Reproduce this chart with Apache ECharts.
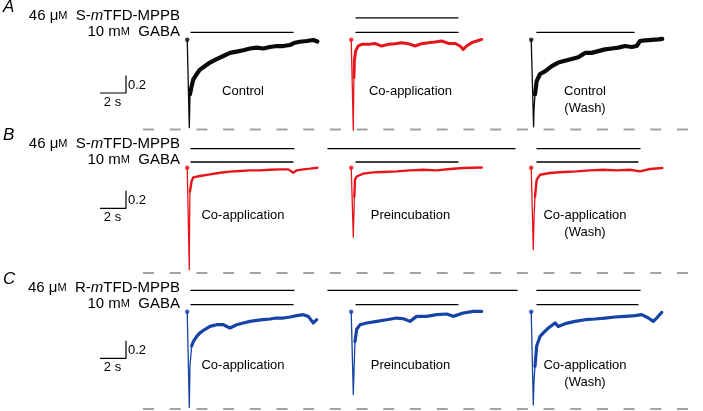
<!DOCTYPE html>
<html>
<head>
<meta charset="utf-8">
<script src="https://cdn.jsdelivr.net/npm/echarts@6/dist/echarts.min.js"></script>
<style>html,body{margin:0;padding:0;background:#fff}#chart{width:703px;height:411px}</style>
</head>
<body>
<div id="chart"></div>
<script>
// ---------------- DATA (normalised current vs time in s) ----------------
const traceIds = ['A1','A2','A3','B1','B2','B3','C1','C2','C3'];

const tA1 = [-0.06, 0, 0.1, 0.13, 0.15, 0.28, 0.41, 0.67, 0.92, 1.31, 1.69, 2.2, 2.72, 3.23, 3.74, 4.26, 4.77, 5.28, 5.79, 6.3, 6.82, 7.33, 7.85, 8.23, 8.6, 9.13, 9.64, 9.95];
const vA1 = [0, 0, -1.0, -0.8, -0.62, -0.53, -0.45, -0.39, -0.34, -0.30, -0.26, -0.22, -0.185, -0.15, -0.136, -0.12, -0.10, -0.09, -0.10, -0.083, -0.072, -0.072, -0.06, -0.034, -0.023, -0.015, -0.003, -0.02];

const tA2 = [-0.06, 0, 0.1, 0.13, 0.15, 0.18, 0.28, 0.48, 0.75, 1.25, 1.77, 2.28, 2.79, 3.31, 3.82, 4.33, 4.85, 5.36, 5.87, 6.38, 6.9, 7.41, 7.92, 8.31, 8.56, 8.82, 9.21, 9.59, 9.98];
const vA2 = [0, 0, -1.03, -0.62, -0.43, -0.24, -0.13, -0.07, -0.053, -0.053, -0.042, -0.072, -0.053, -0.045, -0.034, -0.045, -0.072, -0.045, -0.034, -0.026, -0.015, -0.042, -0.042, -0.072, -0.11, -0.072, -0.034, -0.015, 0.003];

const tA3 = [-0.06, 0, 0.12, 0.16, 0.23, 0.36, 0.62, 1.0, 1.52, 2.02, 2.54, 3.05, 3.56, 4.08, 4.59, 5.1, 5.62, 6.13, 6.64, 7.15, 7.67, 8.05, 8.31, 8.69, 9.21, 9.72, 10.02];
const vA3 = [0, 0, -0.99, -0.78, -0.62, -0.47, -0.39, -0.36, -0.30, -0.26, -0.24, -0.22, -0.20, -0.15, -0.15, -0.13, -0.11, -0.10, -0.09, -0.072, -0.083, -0.072, -0.015, -0.008, -0.003, 0.003, 0.01];

const tB1 = [-0.06, 0, 0.1, 0.12, 0.15, 0.28, 0.41, 0.92, 1.69, 2.46, 3.23, 4.0, 4.77, 5.54, 6.31, 7.08, 7.72, 8.1, 8.36, 8.87, 9.38, 9.95];
const vB1 = [0, 0, -1.16, -0.6, -0.27, -0.15, -0.11, -0.094, -0.076, -0.057, -0.045, -0.038, -0.03, -0.03, -0.023, -0.019, -0.019, -0.057, -0.03, -0.019, -0.011, 0];

const tB2 = [-0.06, 0, 0.1, 0.15, 0.18, 0.23, 0.36, 0.87, 1.64, 2.41, 3.44, 4.46, 5.48, 6.51, 7.54, 8.56, 9.98];
const vB2 = [0, 0, -0.79, -0.51, -0.33, -0.136, -0.1, -0.068, -0.053, -0.049, -0.042, -0.03, -0.023, -0.03, -0.015, -0.004, 0.003];

const tB3 = [-0.06, 0, 0.1, 0.16, 0.23, 0.36, 0.62, 1.38, 2.41, 3.44, 4.46, 5.48, 6.51, 7.54, 8.31, 9.08, 10.02];
const vB3 = [0, 0, -0.93, -0.55, -0.33, -0.136, -0.08, -0.06, -0.049, -0.042, -0.03, -0.023, -0.03, -0.023, -0.042, -0.015, -0.004];

const tC1 = [-0.06, 0, 0.1, 0.15, 0.28, 0.41, 0.67, 0.92, 1.31, 1.69, 2.2, 2.72, 3.23, 3.74, 4.26, 4.77, 5.28, 5.79, 6.31, 6.82, 7.33, 7.85, 8.36, 8.87, 9.25, 9.64, 9.9];
const vC1 = [0, 0, -1.09, -0.62, -0.39, -0.34, -0.28, -0.24, -0.20, -0.167, -0.148, -0.148, -0.185, -0.148, -0.128, -0.11, -0.099, -0.091, -0.083, -0.072, -0.072, -0.06, -0.045, -0.034, -0.053, -0.128, -0.091];

const tC2 = [-0.06, 0, 0.1, 0.17, 0.23, 0.36, 0.62, 1.13, 1.9, 2.67, 3.44, 3.95, 4.46, 4.97, 5.74, 6.51, 7.28, 7.79, 8.56, 9.33, 9.98];
const vC2 = [0, 0, -0.94, -0.6, -0.34, -0.20, -0.148, -0.128, -0.11, -0.091, -0.072, -0.08, -0.11, -0.053, -0.053, -0.034, -0.026, -0.053, -0.015, 0.003, 0.003];

const tC3 = [-0.06, 0, 0.1, 0.15, 0.23, 0.36, 0.62, 0.87, 1.26, 1.77, 2.02, 2.54, 3.31, 4.08, 4.85, 5.62, 6.38, 7.15, 7.92, 8.44, 8.95, 9.33, 9.59, 9.98];
const vC3 = [0, 0, -1.06, -0.8, -0.62, -0.39, -0.28, -0.24, -0.185, -0.128, -0.167, -0.136, -0.11, -0.091, -0.083, -0.072, -0.06, -0.053, -0.045, -0.034, -0.072, -0.11, -0.072, -0.008];

// application periods (s, relative to sweep start)
const gabaOn  = [0.23, 0.31, 0.38, 0.23, 0.31, 0.38, 0.23, 0.31, 0.38];
const gabaOff = [8.08, 8.15, 7.85, 8.08, 8.15, 8.15, 8.08, 8.15, 8.15];
const drugOn  = [null, 0.31, null, 0.23, -1.85, 0.38, 0.23, -1.85, 0.38];
const drugOff = [null, 8.15, null, 8.15, 12.54, 8.31, 8.15, 12.7, 8.31];

// dashed reference level per row (normalised current)
const refLevel = [-1.02, -1.197, -1.106];

// labels
const rowLetters = ['A', 'B', 'C'];
const enantiomers = ['S', 'S', 'R'];
const condLabels = [
  ['Control'], ['Co-application'], ['Control', '(Wash)'],
  ['Co-application'], ['Preincubation'], ['Co-application', '(Wash)'],
  ['Co-application'], ['Preincubation'], ['Co-application', '(Wash)']
];
const scaleTime = 2;      // s
const scaleAmp = 0.2;     // normalised
const scaleTimeLabel = '2 s';
const scaleAmpLabel = '0.2';

// ---------------- LAYOUT ----------------
const T = [tA1, tA2, tA3, tB1, tB2, tB3, tC1, tC2, tC3];
const V = [vA1, vA2, vA3, vB1, vB2, vB3, vC1, vC2, vC3];
const BLACK = '#0a0a0a', RED = '#e5151b', BLUE = '#1743a6';
const colors = [BLACK, RED, BLACK, RED, RED, RED, BLUE, BLUE, BLUE];
const widths = [4.2, 3, 4.2, 2.4, 2.4, 2.4, 3.2, 3.2, 3.2];

const PX_S = 13, PX_U = 88;
const XMIN = -2.5, XMAX = 13, YMAX = 0.35;
const YMIN = [-1.25, -1.25, -1.11];
const colX0 = [188, 352, 532];
const rowY0 = [39.7, 167.7, 311.7];
const gabaLevel = [0.083, 0.065, 0.08];
const drugLevel = [0.247, 0.216, 0.242];
const labelCX = [243, 410.5, 585];
const labelY = [91, 215, 365];
const scaleBarY = [93, 208.3, 358.3];
const FONT = '"Liberation Sans", Arial, sans-serif';

const grid = [], xAxis = [], yAxis = [], series = [], graphic = [];
function addGrid(left, top, width, height, xmin, xmax, ymin, ymax) {
  grid.push({ left, top, width, height, containLabel: false });
  const i = grid.length - 1;
  xAxis.push({ type: 'value', gridIndex: i, min: xmin, max: xmax, show: false });
  yAxis.push({ type: 'value', gridIndex: i, min: ymin, max: ymax, show: false });
  return i;
}
function lineSeries(gi, data, color, width, dash) {
  series.push({
    type: 'line', xAxisIndex: gi, yAxisIndex: gi, data, symbol: 'none',
    animation: false, silent: true, clip: false,
    lineStyle: { color, width, type: dash || 'solid', cap: 'round', join: 'round' }
  });
}

for (let k = 0; k < 9; k++) {
  const r = Math.floor(k / 3), c = k % 3;
  const gi = addGrid(colX0[c] + XMIN * PX_S, rowY0[r] - YMAX * PX_U,
    (XMAX - XMIN) * PX_S, (YMAX - YMIN[r]) * PX_U, XMIN, XMAX, YMIN[r], YMAX);
  const t = T[k], v = V[k];
  const pts = t.map((x, i) => [x, v[i]]);
  let pk = 0; v.forEach((y, i) => { if (y < v[pk]) pk = i; });
  const split = pk + 2;
  lineSeries(gi, pts.slice(0, split + 1), colors[k], 1.3);
  lineSeries(gi, pts.slice(split), colors[k], widths[k]);
  series.push({ type: 'scatter', xAxisIndex: gi, yAxisIndex: gi, data: [pts[0]],
    symbolSize: 4.5, itemStyle: { color: colors[k] }, animation: false, silent: true });
  lineSeries(gi, [[gabaOn[k], gabaLevel[r]], [gabaOff[k], gabaLevel[r]]], '#000', 1.3);
  if (drugOn[k] !== null) {
    lineSeries(gi, [[drugOn[k], drugLevel[r]], [drugOff[k], drugLevel[r]]], '#000', 1.3);
  }
  condLabels[k].forEach((txt, j) => {
    graphic.push({ type: 'text', x: labelCX[c], y: labelY[r] + j * 17,
      style: { text: txt, font: '13px ' + FONT, fill: '#000', align: 'center', verticalAlign: 'middle' } });
  });
}

for (let r = 0; r < 3; r++) {
  const gi = addGrid(143, rowY0[r] - YMAX * PX_U, 703 - 143, (YMAX - YMIN[r]) * PX_U, 0, 1, YMIN[r], YMAX);
  lineSeries(gi, [[0, refLevel[r]], [1, refLevel[r]]], '#a3a3a3', 2, [11, 15.7]);
  series[series.length - 1].lineStyle.cap = 'butt';
  const sg = addGrid(100, scaleBarY[r] - scaleAmp * PX_U, scaleTime * PX_S, scaleAmp * PX_U, 0, scaleTime, 0, scaleAmp);
  lineSeries(sg, [[0, 0], [scaleTime, 0], [scaleTime, scaleAmp]], '#000', 1.2);
  series[series.length - 1].lineStyle.cap = 'butt';
  graphic.push({ type: 'text', x: 128, y: scaleBarY[r] - 8,
    style: { text: scaleAmpLabel, font: '13px ' + FONT, fill: '#000', align: 'left', verticalAlign: 'middle' } });
  graphic.push({ type: 'text', x: 112.5, y: scaleBarY[r] + 9,
    style: { text: scaleTimeLabel, font: '13px ' + FONT, fill: '#000', align: 'center', verticalAlign: 'middle' } });

  const y0 = rowY0[r];
  graphic.push({ type: 'text', x: 3, y: y0 - 32,
    style: { text: rowLetters[r], font: 'italic 17px ' + FONT, fill: '#000', align: 'left', verticalAlign: 'middle' } });
  const rich = {
    n: { fontSize: 15, fontFamily: FONT, fill: '#000' },
    s: { fontSize: 11, fontFamily: FONT, fill: '#000' },
    i: { fontSize: 15, fontFamily: FONT, fontStyle: 'italic', fill: '#000' }
  };
  graphic.push({ type: 'text', x: 180, y: y0 - 24,
    style: { text: '{n|46 μ}{s|M}{n|  ' + enantiomers[r] + '-}{i|m}{n|TFD-MPPB}', rich, align: 'right', verticalAlign: 'middle' } });
  graphic.push({ type: 'text', x: 180, y: y0 - 7.5,
    style: { text: '{n|10 m}{s|M}{n|  GABA}', rich, align: 'right', verticalAlign: 'middle' } });
}

const chart = echarts.init(document.getElementById('chart'), null, { renderer: 'canvas' });
chart.setOption({ animation: false, grid, xAxis, yAxis, series, graphic });
</script>
</body>
</html>
